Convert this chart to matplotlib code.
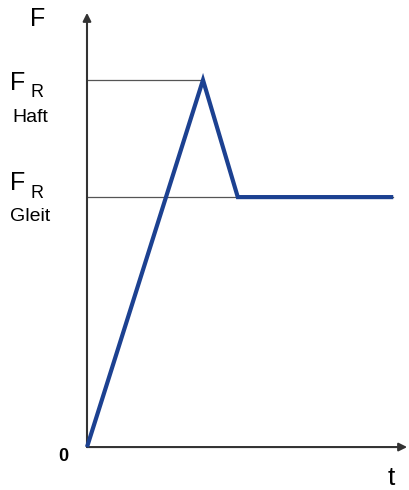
import matplotlib.pyplot as plt

plt.rcParams["font.family"] = ["Liberation Sans", "DejaVu Sans"]

# force curve (normalised: F_haft = 1, peak time = 1)
t_vals = [0.0, 1.0, 1.30, 2.64]
f_vals = [0.0, 1.0, 0.681, 0.681]
f_haft = 1.0
f_gleit = 0.681
t_haft_end = 1.0
t_gleit_end = 2.64

fig = plt.figure(figsize=(4.09, 4.90), dpi=100)
ax = fig.add_axes([0, 0, 1, 1])
ax.set_xlim(-0.75, 2.776)
ax.set_ylim(-0.117, 1.218)
ax.axis("off")

# reference lines
ax.plot([0, t_haft_end], [f_haft, f_haft], color="#555555", lw=0.9, zorder=1)
ax.plot([0, t_gleit_end], [f_gleit, f_gleit], color="#555555", lw=0.9, zorder=1)

# axes with arrows
arrow = dict(arrowstyle="-|>", color="#333333", lw=1.5,
             mutation_scale=12, shrinkA=0, shrinkB=0)
ax.annotate("", xy=(2.76, 0), xytext=(0, 0), arrowprops=arrow)
ax.annotate("", xy=(0, 1.183), xytext=(0, 0), arrowprops=arrow)

ax.plot(t_vals, f_vals, color="#1c4191", lw=3.0, solid_joinstyle="miter",
        solid_capstyle="butt", zorder=3)

# labels
ax.text(-0.427, 1.166, "F", fontsize=18, ha="center", va="center")
ax.text(-0.60, 0.992, "F", fontsize=18, ha="center", va="center")
ax.text(-0.427, 0.967, "R", fontsize=13, ha="center", va="center")
ax.text(-0.491, 0.899, "Haft", fontsize=14, ha="center", va="center")
ax.text(-0.60, 0.719, "F", fontsize=18, ha="center", va="center")
ax.text(-0.427, 0.692, "R", fontsize=13, ha="center", va="center")
ax.text(-0.487, 0.627, "Gleit", fontsize=14, ha="center", va="center")
ax.text(-0.203, -0.026, "0", fontsize=13, fontweight="bold", ha="center", va="center")
ax.text(2.62, -0.084, "t", fontsize=19, ha="center", va="center")

fig.savefig("out.png", dpi=100)
